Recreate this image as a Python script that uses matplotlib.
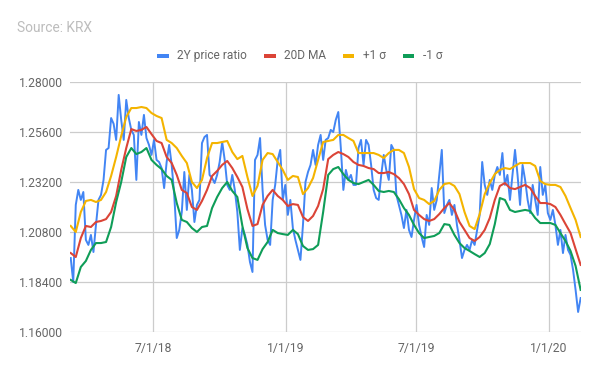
import matplotlib
matplotlib.use("Agg")
import matplotlib.pyplot as plt
import matplotlib.dates as mdates
from matplotlib.patches import Rectangle
from matplotlib.ticker import FixedLocator, FormatStrFormatter
import pandas as pd

plt.rcParams['font.family'] = ['Roboto', 'DejaVu Sans']

# ---- data ----
ratio_start = "2018-03-09"   # 2Y price ratio, sampled every 3.5 days
ratio = [
    1.1955, 1.1840, 1.2210, 1.2282, 1.2234, 1.2272, 1.2042, 1.2018, 1.2066, 1.1984,
    1.2114, 1.2234, 1.2258, 1.2330, 1.2474, 1.2483, 1.2627, 1.2599, 1.2522, 1.2738,
    1.2618, 1.2522, 1.2714, 1.2627, 1.2570, 1.2546, 1.2330, 1.2608, 1.2546, 1.2642,
    1.2531, 1.2498, 1.2450, 1.2522, 1.2426, 1.2416, 1.2387, 1.2291, 1.2416, 1.2498,
    1.2402, 1.2258, 1.2051, 1.2090, 1.2176, 1.2368, 1.2186, 1.2354, 1.2282, 1.2128,
    1.2210, 1.2234, 1.2507, 1.2536, 1.2546, 1.2354, 1.2339, 1.2315, 1.2354, 1.2416,
    1.2512, 1.2426, 1.2306, 1.2282, 1.2354, 1.2282, 1.2176, 1.1994, 1.2099, 1.2066,
    1.2018, 1.1936, 1.1888, 1.2426, 1.2450, 1.2531, 1.2282, 1.2114, 1.2042, 1.2018,
    1.2234, 1.2306, 1.2426, 1.2474, 1.2234, 1.2306, 1.2162, 1.2234, 1.2099, 1.2042,
    1.1994, 1.1946, 1.2114, 1.2320, 1.2368, 1.2402, 1.2474, 1.2402, 1.2498, 1.2546,
    1.2426, 1.2522, 1.2531, 1.2570, 1.2560, 1.2618, 1.2656, 1.2483, 1.2282, 1.2378,
    1.2330, 1.2354, 1.2306, 1.2306, 1.2483, 1.2522, 1.2402, 1.2522, 1.2498, 1.2402,
    1.2282, 1.2243, 1.2234, 1.2354, 1.2450, 1.2378, 1.2330, 1.2498, 1.2474, 1.2258,
    1.2210, 1.2162, 1.2099, 1.2186, 1.2090, 1.2056, 1.2138, 1.2210, 1.2114, 1.2056,
    1.2008, 1.2162, 1.2114, 1.2291, 1.2186, 1.2234, 1.2354, 1.2474, 1.2171, 1.2210,
    1.2234, 1.2162, 1.2210, 1.2114, 1.2042, 1.1955, 1.1994, 1.2018, 1.1994, 1.2042,
    1.2018, 1.2090, 1.2162, 1.2416, 1.2306, 1.2258, 1.2330, 1.2282, 1.2354, 1.2392,
    1.2354, 1.2459, 1.2306, 1.2354, 1.2234, 1.2354, 1.2474, 1.2354, 1.2210, 1.2402,
    1.2330, 1.2234, 1.2171, 1.2306, 1.2234, 1.2162, 1.2392, 1.2258, 1.2306, 1.2171,
    1.2138, 1.2186, 1.2114, 1.2018, 1.2090, 1.1979, 1.2066, 1.1994, 1.1970, 1.1898,
    1.1802, 1.1696, 1.1763,
]

band_start = "2018-03-09"    # MA and bands, sampled weekly
ma20 = [
    1.1979, 1.1960, 1.2051, 1.2109, 1.2104, 1.2128, 1.2133, 1.2142, 1.2176, 1.2253,
    1.2378, 1.2483, 1.2574, 1.2565, 1.2570, 1.2584, 1.2550, 1.2517, 1.2507, 1.2440,
    1.2411, 1.2354, 1.2282, 1.2267, 1.2200, 1.2186, 1.2229, 1.2282, 1.2349, 1.2373,
    1.2402, 1.2421, 1.2387, 1.2344, 1.2296, 1.2190, 1.2109, 1.2118, 1.2210, 1.2253,
    1.2282, 1.2253, 1.2234, 1.2205, 1.2214, 1.2210, 1.2152, 1.2133, 1.2157, 1.2205,
    1.2286, 1.2430, 1.2450, 1.2464, 1.2454, 1.2440, 1.2416, 1.2402, 1.2397, 1.2387,
    1.2382, 1.2363, 1.2363, 1.2368, 1.2358, 1.2339, 1.2310, 1.2262, 1.2186, 1.2162,
    1.2142, 1.2133, 1.2142, 1.2166, 1.2195, 1.2219, 1.2186, 1.2128, 1.2090, 1.2051,
    1.2037, 1.2056, 1.2090, 1.2147, 1.2234, 1.2301, 1.2315, 1.2291, 1.2286, 1.2296,
    1.2306, 1.2291, 1.2253, 1.2219, 1.2219, 1.2214, 1.2200, 1.2162, 1.2118, 1.2075,
    1.1998, 1.1922,
]
plus_sigma = [
    1.2109, 1.2080, 1.2176, 1.2229, 1.2234, 1.2224, 1.2234, 1.2272, 1.2349, 1.2440,
    1.2541, 1.2632, 1.2675, 1.2675, 1.2680, 1.2675, 1.2651, 1.2637, 1.2627, 1.2522,
    1.2507, 1.2483, 1.2445, 1.2411, 1.2320, 1.2291, 1.2330, 1.2435, 1.2507, 1.2507,
    1.2512, 1.2517, 1.2464, 1.2430, 1.2445, 1.2344, 1.2253, 1.2301, 1.2426, 1.2459,
    1.2454, 1.2416, 1.2378, 1.2330, 1.2349, 1.2344, 1.2262, 1.2291, 1.2339, 1.2426,
    1.2512, 1.2517, 1.2522, 1.2546, 1.2546, 1.2531, 1.2517, 1.2459, 1.2459, 1.2459,
    1.2459, 1.2450, 1.2435, 1.2459, 1.2474, 1.2474, 1.2459, 1.2392, 1.2286, 1.2243,
    1.2234, 1.2214, 1.2229, 1.2282, 1.2310, 1.2315, 1.2301, 1.2262, 1.2176, 1.2109,
    1.2094, 1.2166, 1.2262, 1.2315, 1.2358, 1.2378, 1.2387, 1.2382, 1.2397, 1.2411,
    1.2411, 1.2411, 1.2397, 1.2325, 1.2310, 1.2306, 1.2306, 1.2296, 1.2253, 1.2195,
    1.2138, 1.2056,
]
minus_sigma = [
    1.1850, 1.1835, 1.1912, 1.1941, 1.1994, 1.2027, 1.2027, 1.2032, 1.2104, 1.2224,
    1.2320, 1.2440, 1.2483, 1.2454, 1.2464, 1.2483, 1.2426, 1.2402, 1.2382, 1.2349,
    1.2330, 1.2219, 1.2138, 1.2128, 1.2099, 1.2080, 1.2104, 1.2109, 1.2195, 1.2248,
    1.2291, 1.2320, 1.2277, 1.2248, 1.2109, 1.2003, 1.1955, 1.1946, 1.1998, 1.2032,
    1.2090, 1.2075, 1.2070, 1.2066, 1.2090, 1.2070, 1.2013, 1.1994, 1.1998, 1.2018,
    1.2176, 1.2354, 1.2382, 1.2392, 1.2358, 1.2330, 1.2315, 1.2310, 1.2320, 1.2330,
    1.2306, 1.2277, 1.2272, 1.2277, 1.2272, 1.2238, 1.2195, 1.2162, 1.2114, 1.2075,
    1.2051, 1.2056, 1.2061, 1.2075, 1.2118, 1.2114, 1.2066, 1.2027, 1.2003, 1.1989,
    1.1974, 1.1960, 1.1979, 1.2022, 1.2118, 1.2243, 1.2234, 1.2186, 1.2176, 1.2181,
    1.2186, 1.2181, 1.2147, 1.2123, 1.2123, 1.2123, 1.2114, 1.2075, 1.2037, 1.1989,
    1.1917, 1.1802,
]

x_ticks = ["2018-07-01", "2019-01-01", "2019-07-01", "2020-01-01"]
x_tick_labels = ["7/1/18", "1/1/19", "7/1/19", "1/1/20"]
y_ticks = [1.16, 1.184, 1.208, 1.232, 1.256, 1.28]
series_names = ["2Y price ratio", "20D MA", "+1 σ", "-1 σ"]
colors = ["#4285F4", "#DB4437", "#F4B400", "#0F9D58"]

ratio_dates = pd.date_range(ratio_start, periods=len(ratio), freq="84h")
band_dates = pd.date_range(band_start, periods=len(ma20), freq="7D")

W, H = 600, 371
fig = plt.figure(figsize=(W / 100, H / 100), dpi=100)
ax = fig.add_axes([70 / W, 1 - 332 / H, 511 / W, 250 / H])

ax.plot(ratio_dates, ratio, color=colors[0], lw=1.4, zorder=3, solid_joinstyle="round")
ax.plot(band_dates, ma20, color=colors[1], lw=1.5, zorder=4)
ax.plot(band_dates, plus_sigma, color=colors[2], lw=1.5, zorder=5)
ax.plot(band_dates, minus_sigma, color=colors[3], lw=1.5, zorder=6)

ax.set_xlim(pd.Timestamp("2018-03-08"), pd.Timestamp("2020-02-14 12:00"))
ax.set_ylim(1.16, 1.28)

ax.xaxis.set_major_locator(FixedLocator([mdates.date2num(pd.Timestamp(d)) for d in x_ticks]))
ax.set_xticklabels(x_tick_labels)
ax.yaxis.set_major_locator(FixedLocator(y_ticks))
ax.yaxis.set_major_formatter(FormatStrFormatter("%.5f"))

ax.grid(True, color="#cccccc", lw=0.9, zorder=0)
ax.set_axisbelow(True)
for s in ax.spines.values():
    s.set_visible(False)
ax.tick_params(axis="both", length=0, labelsize=8.7, colors="#666666")
ax.tick_params(axis="y", pad=5)
ax.tick_params(axis="x", pad=7)

fig.text(17 / W, 1 - 28.5 / H, "Source: KRX", color="#bdbdbd", fontsize=9.9,
         va="center", ha="left")

# legend drawn manually (swatch left x, text left x in pixels)
swatch_x = [157.3, 264.3, 342.7, 402.7]
text_x = [177.3, 284.3, 362.7, 422.7]
ly = 55.7
for name, c, sx, tx in zip(series_names, colors, swatch_x, text_x):
    fig.patches.append(Rectangle((sx / W, 1 - (ly + 2.0) / H), 11.4 / W, 4.0 / H,
                                 transform=fig.transFigure, facecolor=c,
                                 edgecolor="none"))
    fig.text(tx / W, 1 - ly / H, name, color="#666666", fontsize=8.6,
             va="center", ha="left")

fig.savefig("out.png", dpi=100)
